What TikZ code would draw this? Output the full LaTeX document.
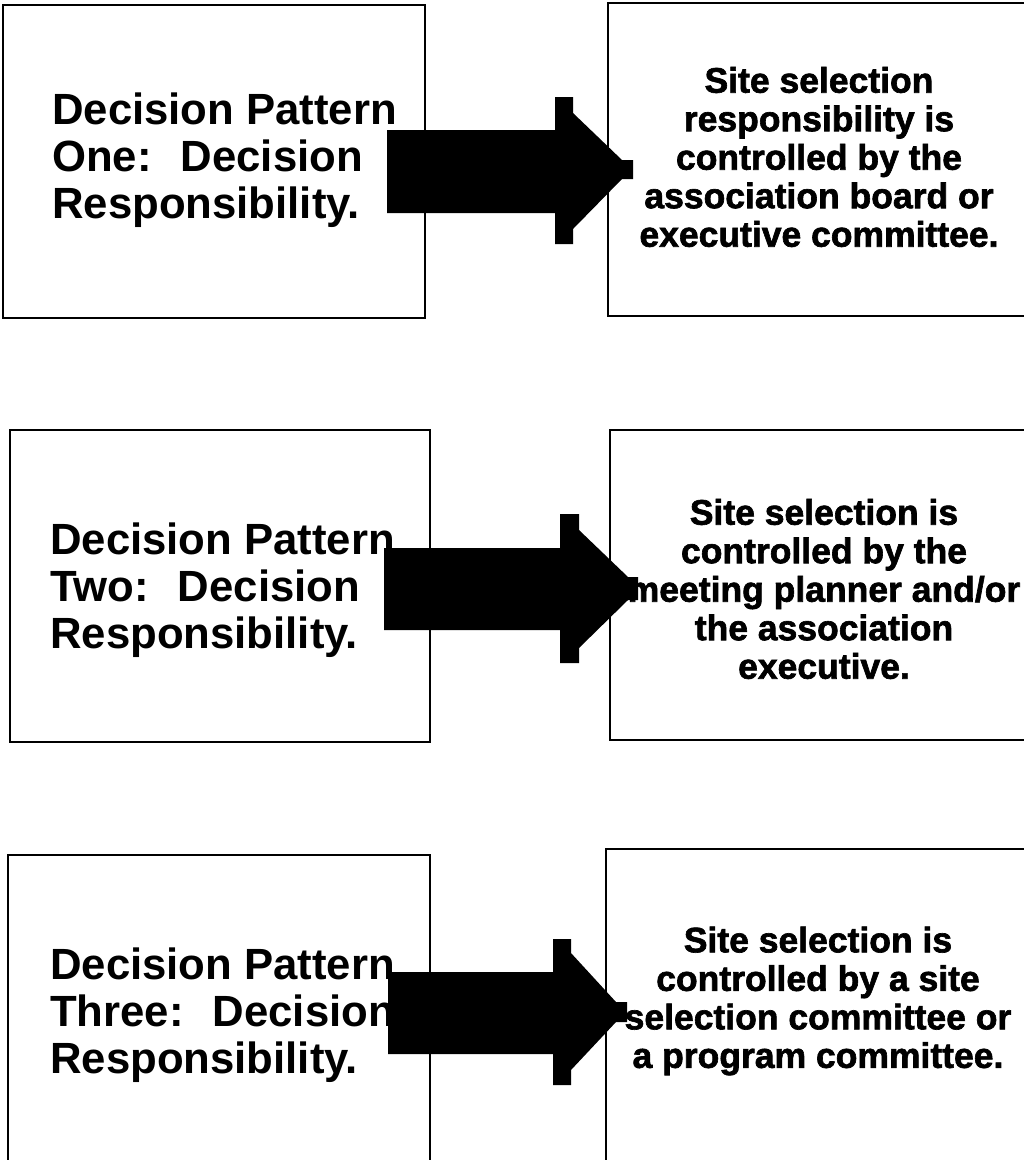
\documentclass[tikz,border=0pt]{standalone}
\usepackage{fontspec}
\setmainfont{Liberation Sans}
\newfontfamily\heavyfont[FakeBold=1.8]{Liberation Sans Bold}
\begin{document}
\begin{tikzpicture}[x=1pt, y=-1pt,
  frame/.style={draw=black, line width=1.8pt, fill=none, inner sep=0pt},
  pattern/.style={anchor=west, align=left, inner sep=0pt,
    font=\bfseries\fontsize{43.7}{47}\selectfont},
  outcome/.style={anchor=center, align=center, inner sep=0pt,
    font=\heavyfont\fontsize{35.5}{38.5}\selectfont},
  blockarrow/.style={fill=black, draw=none}]
\useasboundingbox (0,0) rectangle (1024,1160);
\clip (0,0) rectangle (1024,1160);
\fill[white] (0,0) rectangle (1024,1160);

% Frames
\draw[frame] (3,5) rectangle (425,318);
\draw[frame] (608,3) rectangle (1034,316);
\draw[frame] (10,430) rectangle (430,742);
\draw[frame] (610,430) rectangle (1034,740);
\draw[frame] (8,855) rectangle (430,1180);
\draw[frame] (606,849) rectangle (1034,1180);

% Pattern labels
\node[pattern] (p1) at (52,160) {Decision Pattern\\One:\hspace{29pt}Decision\\Responsibility.};
\node[pattern] (p2) at (50,590) {Decision Pattern\\Two:\hspace{29pt}Decision\\Responsibility.};
\node[pattern] (p3) at (50,1015) {Decision Pattern\\Three:\hspace{29pt}Decision\\Responsibility.};

% Outcome texts
\node[outcome] (o1) at (819,157) {Site selection\\responsibility is\\controlled by the\\association board or\\executive committee.};
\node[outcome] (o2) at (824,589) {Site selection is\\controlled by the\\meeting planner and/or\\the association\\executive.};
\node[outcome] (o3) at (818,1001) {Site selection is\\controlled by a site\\selection committee or\\a program committee.};

% Block arrows
\fill[blockarrow] (387,130) -- (555,130) -- (555,97) -- (573,97) -- (573,113) -- (622,160)
  -- (633,160) -- (633,179) -- (622,179) -- (573,229) -- (573,244) -- (555,244)
  -- (555,213) -- (387,213) -- cycle;
\fill[blockarrow] (384,548) -- (560,548) -- (560,514) -- (579,514) -- (579,530) -- (628,577)
  -- (638,577) -- (638,600) -- (628,600) -- (579,648) -- (579,663) -- (560,663)
  -- (560,630) -- (384,630) -- cycle;
\fill[blockarrow] (388,972) -- (553,972) -- (553,939) -- (571,939) -- (571,953) -- (616,1002)
  -- (627,1002) -- (627,1022) -- (616,1022) -- (571,1070) -- (571,1085) -- (553,1085)
  -- (553,1054) -- (388,1054) -- cycle;
\end{tikzpicture}
\end{document}
